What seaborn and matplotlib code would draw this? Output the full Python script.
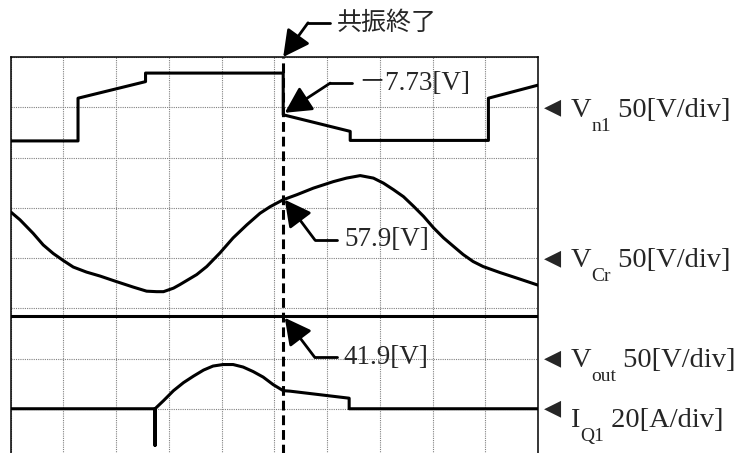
import matplotlib
matplotlib.use("Agg")
import matplotlib.pyplot as plt
import seaborn as sns

# Waveforms, in grid divisions (x: 0-10, y: 0-8)
vn1_x = [0, 1.28, 1.28, 2.56, 2.56, 5.17, 5.17, 6.44, 6.44, 9.06, 9.06, 10]
vn1_y = [6.33, 6.33, 7.18, 7.51, 7.68, 7.68, 6.85, 6.52, 6.34, 6.34, 7.18, 7.44]

vcr_x = [0, 0.18, 0.43, 0.62, 0.81, 1.0, 1.19, 1.44, 1.70, 2.01, 2.33, 2.58, 2.77, 2.90, 3.09,
         3.21, 3.53, 3.72, 3.97, 4.22, 4.48, 4.73, 4.92, 5.17, 5.43, 5.74, 6.12, 6.37,
         6.63, 6.88, 7.07, 7.26, 7.45, 7.64, 7.83, 8.02, 8.21, 8.40, 8.58, 8.77, 8.96,
         9.28, 9.60, 10]
vcr_y = [4.92, 4.76, 4.49, 4.26, 4.09, 3.95, 3.82, 3.72, 3.64, 3.53, 3.42, 3.34, 3.33, 3.33, 3.40,
         3.47, 3.67, 3.83, 4.10, 4.40, 4.66, 4.89, 5.02, 5.16, 5.26, 5.39, 5.52, 5.59,
         5.64, 5.59, 5.49, 5.36, 5.22, 5.03, 4.83, 4.60, 4.40, 4.23, 4.07, 3.93, 3.83,
         3.71, 3.60, 3.46]

vout_x = [0, 10]
vout_y = [2.84, 2.84]

iq1_x = [0, 2.74, 2.74, 2.74, 2.90, 3.09, 3.28, 3.47, 3.66, 3.84, 4.03, 4.22, 4.41, 4.60,
         4.79, 4.98, 5.17, 5.30, 6.42, 6.42, 10]
iq1_y = [1.0, 1.0, 0.27, 1.0, 1.16, 1.36, 1.52, 1.65, 1.77, 1.85, 1.88, 1.88, 1.83, 1.74,
         1.63, 1.48, 1.36, 1.35, 1.21, 1.0, 1.0]

resonance_end_x = 5.17

# channel labels: main letter, subscript, scale, reference level (divisions)
ch_main = ["V", "V", "V", "I"]
ch_sub = ["n1", "Cr", "out", "Q1"]
ch_scale = [" 50[V/div]", " 50[V/div]", " 50[V/div]", " 20[A/div]"]
ch_level = [7, 4, 2, 1]
ch_baseline = [6.81, 3.83, 1.84, 0.64]

sns.set_style("white")
plt.rcParams['font.family'] = ['Liberation Serif', 'Noto Sans CJK JP', 'DejaVu Sans']

W, H = 738, 453
fig = plt.figure(figsize=(W / 100, H / 100), dpi=100)
ax = fig.add_axes([10.5 / W, (H - 459) / H, (538 - 10.5) / W, (459 - 57) / H])
ax.set_xlim(0, 10)
ax.set_ylim(0, 8)
ax.set_xticks(range(11))
ax.set_yticks(range(9))
ax.tick_params(length=0, labelbottom=False, labelleft=False)
ax.grid(True, linestyle=(0, (1, 1)), linewidth=0.8, color='0.5')
for s in ax.spines.values():
    s.set_color('black')
    s.set_linewidth(1.1)

for xs, ys in [(vn1_x, vn1_y), (vcr_x, vcr_y), (vout_x, vout_y), (iq1_x, iq1_y)]:
    sns.lineplot(x=xs, y=ys, estimator=None, sort=False, color='black', linewidth=2.2,
                 solid_joinstyle='round', ax=ax)

ax.axvline(resonance_end_x, color='black', linewidth=2.2, dashes=(3.2, 1.6))

# callouts: (tip, elbow, end of horizontal leader, text, size)
arrow_kw = dict(arrowstyle='-|>,head_length=0.8,head_width=0.42', color='black', lw=2,
                shrinkA=0, shrinkB=0, mutation_scale=20)
callouts = [
    ((5.17, 8.0), (5.64, 8.68), (6.06, 8.68), "共振終了", 18),
    ((5.20, 6.89), (6.06, 7.48), (6.47, 7.48), "\uFF0D7.73[V]", 19.5),
    ((5.20, 5.16), (5.77, 4.36), (6.19, 4.36), "57.9[V]", 19.5),
    ((5.20, 2.81), (5.77, 2.02), (6.19, 2.02), "41.9[V]", 19.5),
]
for tip, elbow, end, txt, fs in callouts:
    ax.annotate("", xy=tip, xytext=elbow, arrowprops=arrow_kw, annotation_clip=False)
    ax.plot([elbow[0], end[0]], [elbow[1], end[1]], color='black', lw=2, clip_on=False)
    ax.text(end[0] + 0.13, end[1], txt, fontsize=fs, ha='left', va='center', clip_on=False)

for m, sub, scale, lvl, base in zip(ch_main, ch_sub, ch_scale, ch_level, ch_baseline):
    ax.text(10.28, lvl, "\u25C0", family='DejaVu Sans', fontsize=16, ha='center', va='center',
            clip_on=False)
    t1 = ax.text(10.61, base, m, fontsize=20.5, ha='left', va='baseline', clip_on=False)
    t2 = ax.annotate(sub, xy=(1, 0), xycoords=t1, xytext=(0.5, -6), textcoords='offset points',
                     fontsize=14, ha='left', va='baseline', annotation_clip=False)
    ax.annotate(scale, xy=(1, 0), xycoords=(t2, t1), xytext=(0, 0), textcoords='offset points',
                fontsize=20.5, ha='left', va='bottom', annotation_clip=False)

fig.savefig("out.png", dpi=100)
